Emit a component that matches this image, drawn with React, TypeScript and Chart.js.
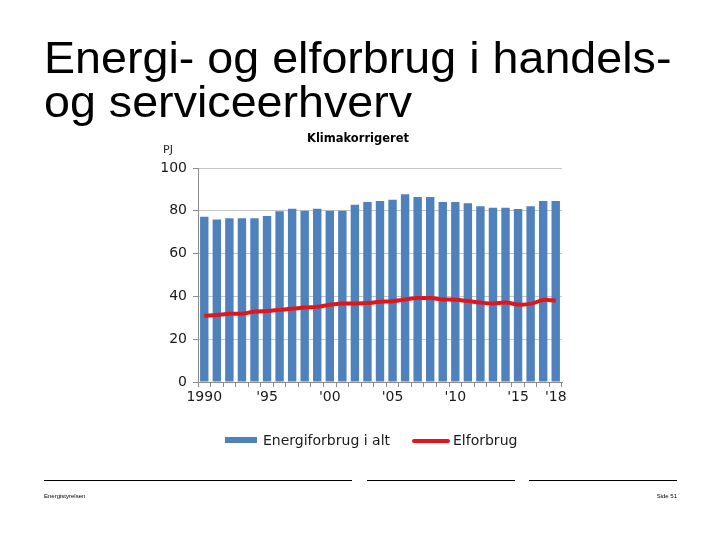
import React, { useEffect, useRef } from "react";
import { Chart, registerables } from "chart.js";
Chart.register(...registerables);

const years = [
  "1990", "1991", "1992", "1993", "1994", "1995", "1996", "1997", "1998", "1999",
  "2000", "2001", "2002", "2003", "2004", "2005", "2006", "2007", "2008", "2009",
  "2010", "2011", "2012", "2013", "2014", "2015", "2016", "2017", "2018",
];
const shownYears = ["1990", "1995", "2000", "2005", "2010", "2015", "2018"];
const shownLabels = ["1990", "'95", "'00", "'05", "'10", "'15", "'18"];

const energiforbrug = [
  77.2, 75.9, 76.5, 76.5, 76.5, 77.6, 79.8, 80.9, 80.0, 80.9,
  80.0, 80.0, 82.8, 84.1, 84.6, 85.2, 87.7, 86.5, 86.5, 84.1,
  84.1, 83.5, 82.1, 81.4, 81.4, 80.8, 82.1, 84.6, 84.6,
];
const elforbrug = [
  30.9, 31.3, 31.9, 31.9, 32.9, 33.2, 33.7, 34.2, 34.8, 35.1,
  36.1, 36.7, 36.7, 36.9, 37.5, 37.7, 38.6, 39.2, 39.2, 38.6,
  38.4, 37.8, 37.1, 36.7, 37.1, 36.2, 36.5, 38.3, 38.0,
];
const yTicks = [0, 20, 40, 60, 80, 100];

const BLUE = "#4f81bd";
const RED = "#e3151b";
const FONT = "'DejaVu Sans', Verdana, sans-serif";

export default function App() {
  const ref = useRef<HTMLCanvasElement>(null);
  useEffect(() => {
    if (!ref.current) return;
    const chart = new Chart(ref.current, {
      type: "bar",
      data: {
        labels: years,
        datasets: [
          {
            type: "bar",
            label: "Energiforbrug i alt",
            data: energiforbrug,
            backgroundColor: BLUE,
            barPercentage: 0.67,
            categoryPercentage: 1,
            order: 1,
          },
          {
            type: "line",
            label: "Elforbrug",
            data: elforbrug,
            borderColor: RED,
            backgroundColor: RED,
            borderWidth: 4,
            pointRadius: 0,
            tension: 0.4,
            order: 0,
          } as any,
        ],
      },
      options: {
        animation: false,
        responsive: true,
        maintainAspectRatio: false,
        layout: { padding: { left: 148, right: 158, top: 168, bottom: 128 } },
        plugins: {
          legend: { display: false },
          tooltip: { enabled: false },
          title: { display: false },
        },
        scales: {
          x: {
            afterFit: (s: any) => { s.height = 30; },
            grid: { drawOnChartArea: false, drawTicks: true, tickLength: 5, color: "#8c8c8c" },
            border: { color: "#8c8c8c" },
            ticks: {
              autoSkip: false,
              maxRotation: 0,
              padding: 2,
              color: "#1a1a1a",
              font: { family: FONT, size: 14 },
              callback: function (_v: any, i: number) {
                const idx = shownYears.indexOf(years[i]);
                return idx >= 0 ? shownLabels[idx] : "";
              },
            },
          },
          y: {
            min: 0,
            max: 100,
            afterFit: (s: any) => { s.width = 50; },
            afterBuildTicks: (s: any) => { s.ticks = yTicks.map((v) => ({ value: v })); },
            grid: { color: "#c6c6c6", tickLength: 5, tickColor: "#8c8c8c" },
            border: { color: "#8c8c8c" },
            ticks: {
              padding: 6,
              color: "#1a1a1a",
              font: { family: FONT, size: 14 },
            },
          },
        },
      },
    });
    return () => chart.destroy();
  }, []);

  const abs = (s: React.CSSProperties): React.CSSProperties => ({ position: "absolute", ...s });

  return (
    <div style={{ position: "fixed", left: 0, top: 0, width: 720, height: 540, background: "#fff", overflow: "hidden" }}>
      <div style={abs({ left: 0, top: 0, width: 720, height: 540 })}>
        <canvas ref={ref} />
      </div>
      <div
        style={abs({
          left: 44,
          top: 36,
          fontFamily: "'Liberation Sans', Arial, sans-serif",
          fontSize: 44,
          lineHeight: "44px",
          color: "#000",
          whiteSpace: "nowrap",
          transform: "scaleX(1.06)",
          transformOrigin: "left top",
        })}
      >
        Energi- og elforbrug i handels-
        <br />
        og serviceerhverv
      </div>
      <div style={abs({ left: 258, width: 200, top: 131, textAlign: "center", fontFamily: FONT, fontWeight: "bold", fontSize: 11.5, color: "#000" })}>
        Klimakorrigeret
      </div>
      <div style={abs({ left: 163, top: 143, fontFamily: FONT, fontSize: 11, color: "#222" })}>PJ</div>
      {/* legend */}
      <div style={abs({ left: 225, top: 437, width: 32, height: 6, background: BLUE })} />
      <div style={abs({ left: 263, top: 432, fontFamily: FONT, fontSize: 14, color: "#1a1a1a", whiteSpace: "nowrap" })}>
        Energiforbrug i alt
      </div>
      <div style={abs({ left: 412, top: 439, width: 38, height: 4, background: RED, borderRadius: 2 })} />
      <div style={abs({ left: 453, top: 432, fontFamily: FONT, fontSize: 14, color: "#1a1a1a", whiteSpace: "nowrap" })}>
        Elforbrug
      </div>
      {/* footer */}
      <div style={abs({ left: 44, top: 480, width: 308, height: 1, background: "#000" })} />
      <div style={abs({ left: 367, top: 480, width: 148, height: 1, background: "#000" })} />
      <div style={abs({ left: 529, top: 480, width: 148, height: 1, background: "#000" })} />
      <div style={abs({ left: 44, top: 493, fontFamily: "'Liberation Sans', Arial, sans-serif", fontSize: 6, color: "#000" })}>
        Energistyrelsen
      </div>
      <div style={abs({ left: 577, width: 100, top: 493, textAlign: "right", fontFamily: "'Liberation Sans', Arial, sans-serif", fontSize: 6, color: "#000" })}>
        Side 51
      </div>
    </div>
  );
}
